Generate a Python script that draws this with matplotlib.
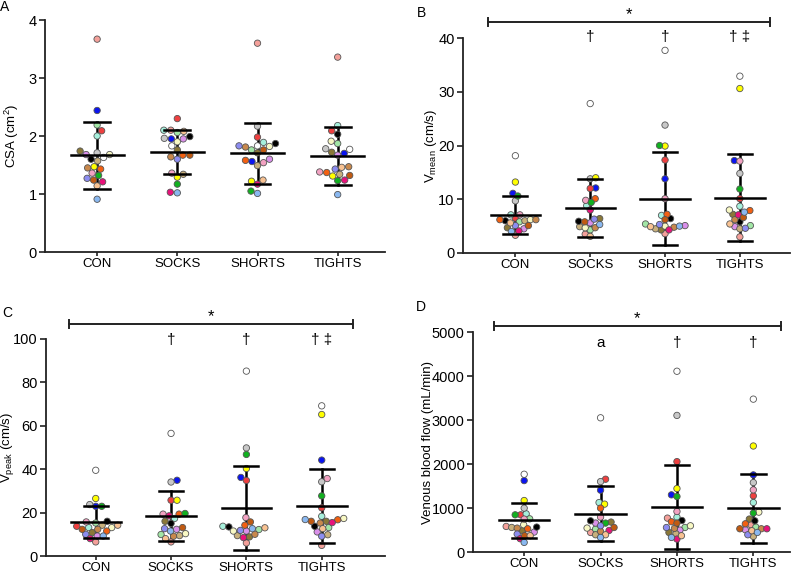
import numpy as np
import matplotlib
matplotlib.use("Agg")
import matplotlib.pyplot as plt

plt.rcParams['font.family'] = ['Liberation Sans', 'DejaVu Sans']
plt.rcParams['mathtext.fontset'] = 'custom'
plt.rcParams['mathtext.rm'] = 'Liberation Sans'
plt.rcParams['mathtext.it'] = 'Liberation Sans'

groups = ["CON", "SOCKS", "SHORTS", "TIGHTS"]

## one colour per participant (same order in every list below)
subject_colors = ['#f4a09a', '#0a14f0', '#ee4040', '#a6f0dc', '#a2e6a6', '#8a7838',
                  '#da90ea', '#c8b07c', '#ffffff', '#000000', '#f8f8c4', '#c8c8c8',
                  '#ffff00', '#f26012', '#c8884c', '#f2a2c2', '#12b020', '#8c8cf0',
                  '#e8127a', '#c05a12', '#f8c292', '#8ab8f0']

## A: CSA (cm2)
csa_con = [3.67, 2.44, 2.09, 2.00, 2.19, 1.74, 1.68, 1.57, 1.63, 1.60, 1.68, 1.71,
           1.47, 1.43, 1.45, 1.36, 1.32, 1.27, 1.21, 1.24, 1.14, 0.91]
csa_socks = [2.10, 1.95, 2.30, 2.10, 2.06, 1.76, 1.95, 1.34, 1.83, 1.99, 1.90, 1.96,
             1.29, 1.67, 1.64, 1.36, 1.17, 1.60, 1.03, 1.67, 2.08, 1.02]
csa_shorts = [3.60, 1.56, 1.98, 1.89, 1.76, 1.71, 1.60, 1.49, 1.83, 1.87, 1.82, 2.17,
              1.22, 1.58, 1.81, 1.54, 1.05, 1.83, 1.17, 1.76, 1.24, 1.01]
csa_tights = [3.36, 1.70, 2.09, 2.18, 1.87, 1.72, 1.67, 1.34, 1.77, 2.03, 1.91, 1.78,
              1.31, 1.37, 1.47, 1.38, 1.23, 1.43, 1.24, 1.32, 1.46, 0.99]
csa_mean = [1.67, 1.72, 1.70, 1.66]
csa_sd = [0.58, 0.38, 0.53, 0.50]

## B: Vmean (cm/s)
vmean_con = [3.3, 11.1, 6.5, 7.1, 5.8, 4.7, 4.5, 6.0, 18.1, 6.0, 6.2, 9.7,
             13.2, 6.2, 6.2, 7.1, 10.6, 5.1, 4.1, 5.1, 5.6, 4.0]
vmean_socks = [3.5, 12.1, 12.0, 8.8, 4.3, 6.4, 5.6, 4.9, 27.8, 5.9, 4.7, 13.8,
               14.0, 10.1, 4.7, 9.8, 9.4, 6.3, 8.0, 5.8, 3.1, 5.3]
vmean_shorts = [3.6, 13.8, 17.3, 7.0, 5.4, 4.3, 5.1, 4.5, 37.7, 6.4, 5.0, 23.8,
                19.9, 7.2, 4.8, 10.1, 20.0, 5.3, 4.3, 6.2, 4.9, 5.0]
vmean_tights = [3.0, 17.2, 10.1, 8.7, 5.1, 7.2, 4.9, 4.5, 32.9, 5.8, 8.0, 14.8,
                30.6, 7.9, 6.2, 17.1, 11.9, 4.6, 7.1, 6.6, 5.4, 7.6]
vmean_mean = [7.1, 8.4, 10.1, 10.3]
vmean_sd = [3.5, 5.4, 8.6, 8.1]
vmean_marks = ["", "\u2020", "\u2020", "\u2020 \u2021"]

## C: Vpeak (cm/s)
vpeak_con = [6.5, 22.9, 13.7, 13.1, 15.2, 10.8, 9.2, 14.2, 39.5, 16.0, 13.1, 23.7,
             26.5, 11.5, 12.3, 15.7, 22.9, 10.0, 8.0, 12.3, 14.2, 9.2]
vpeak_socks = [6.5, 34.9, 25.7, 17.3, 9.9, 16.0, 12.3, 9.4, 56.5, 15.0, 10.3, 34.1,
               25.7, 19.3, 9.1, 19.3, 19.6, 12.6, 18.5, 13.1, 8.0, 11.5]
vpeak_shorts = [6.0, 36.2, 34.8, 13.7, 12.2, 8.8, 11.5, 9.4, 85.2, 13.4, 11.5, 49.8,
                40.3, 14.2, 10.0, 17.7, 46.8, 11.8, 8.5, 15.7, 13.0, 12.6]
vpeak_tights = [4.9, 44.2, 22.2, 18.3, 13.1, 16.0, 11.1, 9.8, 69.2, 13.7, 17.3, 34.2,
                65.2, 16.7, 15.2, 35.7, 27.7, 9.1, 15.4, 16.0, 12.6, 16.8]
vpeak_mean = [15.6, 18.6, 22.1, 23.2]
vpeak_sd = [7.4, 11.5, 19.4, 17.0]
vpeak_marks = ["", "\u2020", "\u2020", "\u2020 \u2021"]

## D: venous blood flow (mL/min)
flow_con = [581, 1623, 845, 868, 754, 483, 453, 558, 1767, 566, 619, 997,
            1170, 528, 543, 748, 845, 408, 302, 370, 370, 218]
flow_socks = [444, 1405, 1654, 1124, 521, 680, 658, 392, 3050, 709, 544, 1600,
              1088, 997, 468, 793, 657, 596, 490, 557, 392, 331]
flow_shorts = [770, 1299, 2054, 793, 557, 444, 498, 415, 4108, 716, 596, 3104,
               1442, 687, 536, 921, 1261, 557, 294, 657, 370, 331]
flow_tights = [619, 1752, 1276, 1124, 566, 748, 505, 354, 3474, 709, 906, 1578,
               2409, 641, 528, 1412, 884, 392, 528, 528, 483, 444]
flow_mean = [716, 875, 1025, 990]
flow_sd = [397, 620, 950, 775]
flow_marks = ["", "a", "\u2020", "\u2020"]


def swarm_x(ax, xc, vals, d):
    # simple beeswarm in pixel space
    pts = ax.transData.transform(np.column_stack([np.full(len(vals), xc), vals]))
    x0, ys = pts[0, 0], pts[:, 1]
    order = np.argsort(ys, kind="stable")
    placed = []
    xs = np.zeros(len(vals))
    for n, i in enumerate(order):
        for c in np.arange(0, 60, 0.5):
            sides = [0.0] if c == 0 else ([-c, c] if n % 2 else [c, -c])
            hit = None
            for s in sides:
                if all((x0 + s - px) ** 2 + (ys[i] - py) ** 2 >= d * d for px, py in placed):
                    hit = s
                    break
            if hit is not None:
                break
        placed.append((x0 + hit, ys[i]))
        xs[i] = ax.transData.inverted().transform((x0 + hit, ys[i]))[0]
    return xs


def draw_panel(ax, data, means, sds, xlim, ylim, yticks, ylabel, labx, spread):
    ax.set_xlim(*xlim)
    ax.set_ylim(*ylim)
    for sp in ["top", "right"]:
        ax.spines[sp].set_visible(False)
    for sp in ["left", "bottom"]:
        ax.spines[sp].set_linewidth(1.3)
        ax.spines[sp].set_color("#222222")
    ax.set_xticks(range(4))
    ax.set_xticklabels(groups, fontsize=9.5)
    ax.set_yticks(yticks)
    ax.tick_params(axis="y", labelsize=10.5, length=4, width=1.2, color="#222222", pad=2)
    ax.tick_params(axis="x", length=3, width=1.2, color="#222222", pad=1.5)
    ax.set_ylabel(ylabel, fontsize=9.5)
    ax.yaxis.set_label_coords(labx, 0.5)
    for g, vals in enumerate(data):
        xs = swarm_x(ax, g, vals, spread)
        ax.scatter(xs, vals, s=21, c=subject_colors, edgecolors="#555555",
                   linewidths=0.6, zorder=3, clip_on=False)
        m, s = means[g], sds[g]
        ax.plot([g - 0.33, g + 0.33], [m, m], color="black", lw=1.8, zorder=4)
        ax.plot([g, g], [m - s, m + s], color="black", lw=1.8, zorder=2)
        ax.plot([g - 0.16, g + 0.16], [m + s, m + s], color="black", lw=1.8, zorder=4)
        ax.plot([g - 0.16, g + 0.16], [m - s, m - s], color="black", lw=1.8, zorder=4)


def sig_bar(ax, x1, x2, y, marks, ymark):
    h = (ax.get_ylim()[1] - ax.get_ylim()[0]) * 4 / (ax.get_window_extent().height)
    ax.plot([x1, x2], [y, y], color="#222222", lw=1.4, clip_on=False)
    ax.plot([x1, x1], [y - h, y + h], color="#222222", lw=1.4, clip_on=False)
    ax.plot([x2, x2], [y - h, y + h], color="#222222", lw=1.4, clip_on=False)
    ax.annotate("*", xy=((x1 + x2) / 2, y), xytext=(0, 0), textcoords="offset points",
                ha="center", va="bottom", fontsize=12, annotation_clip=False)
    for g, t in enumerate(marks):
        if t:
            ax.text(g, ymark, t, ha="center", va="center", fontsize=11, clip_on=False)


fig = plt.figure(figsize=(7.91, 5.73), dpi=100)
W, H = 791.0, 573.0


def add_axes(l, r, t, b):
    return fig.add_axes([l / W, 1 - b / H, (r - l) / W, (b - t) / H])


axA = add_axes(45, 385, 20, 252)
axB = add_axes(463, 790, 38, 253)
axC = add_axes(46, 385, 339, 556)
axD = add_axes(473, 790, 332, 552)

draw_panel(axA, [csa_con, csa_socks, csa_shorts, csa_tights], csa_mean, csa_sd,
           (-0.65, 3.59), (0, 4), [0, 1, 2, 3, 4], "CSA (cm$^2$)", -0.07, 6.6)
draw_panel(axB, [vmean_con, vmean_socks, vmean_shorts, vmean_tights], vmean_mean, vmean_sd,
           (-0.70, 3.67), (0, 40), [0, 10, 20, 30, 40], "V$_{\\mathrm{mean}}$ (cm/s)",
           -0.073, 5.4)
draw_panel(axC, [vpeak_con, vpeak_socks, vpeak_shorts, vpeak_tights], vpeak_mean, vpeak_sd,
           (-0.66, 3.84), (0, 100), [0, 20, 40, 60, 80, 100], "V$_{\\mathrm{peak}}$ (cm/s)",
           -0.088, 6.0)
draw_panel(axD, [flow_con, flow_socks, flow_shorts, flow_tights], flow_mean, flow_sd,
           (-0.67, 3.48), (0, 5000), [0, 1000, 2000, 3000, 4000, 5000],
           "Venous blood flow (mL/min)", -0.123, 5.4)

sig_bar(axB, -0.37, 3.40, 43.0, vmean_marks, 40.2)
sig_bar(axC, -0.35, 3.42, 106.8, vpeak_marks, 99.5)
sig_bar(axD, -0.40, 3.36, 5128, flow_marks, 4740)

for lab, x, y in [("A", 5, 7), ("B", 421, 13), ("C", 7, 313), ("D", 421, 307)]:
    fig.text(x / W, 1 - y / H, lab, fontsize=10, ha="center", va="center")

fig.savefig("out.png", dpi=100)
